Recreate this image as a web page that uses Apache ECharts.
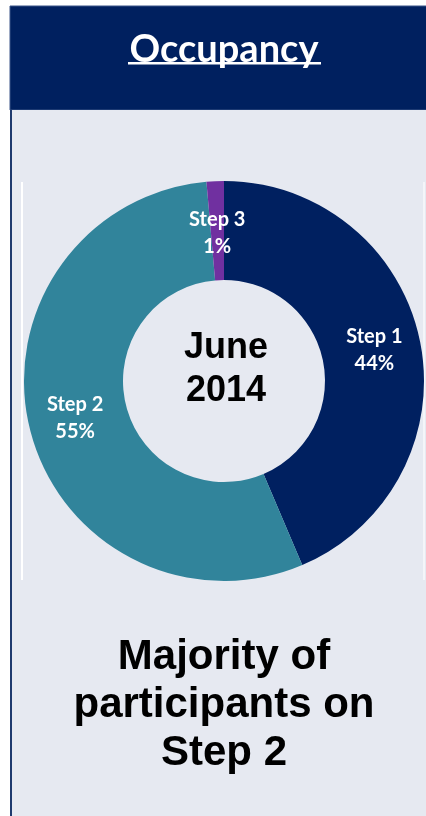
<!DOCTYPE html>
<html lang="en" style="height: 100%">
<head>
    <meta charset="UTF-8">
    <title>Occupancy</title>
    <script src="https://cdn.jsdelivr.net/npm/echarts@6/dist/echarts.min.js"></script>
</head>
<body style="height: 100%; margin: 0; background: #fff">
    <div id="main" style="width: 426px; height: 816px"></div>
    <script>
        var steps = ['Step 1', 'Step 2', 'Step 3'];
        var shares = [43.6, 55.0, 1.4];
        var stepColors = ['#002060', '#31849B', '#7030A0'];
        var title = 'Occupancy';
        var centerText = 'June\n2014';
        var footText = 'Majority of\nparticipants on\nStep 2';

        var myChart = echarts.init(document.getElementById('main'));

        var option = {
            animation: false,
            graphic: [
                // header band
                { type: 'rect', shape: { x: 10, y: 6, width: 420, height: 104 },
                  style: { fill: '#00205F', stroke: '#3A5488', lineWidth: 1 }, z: 0 },
                // light panel
                { type: 'rect', shape: { x: 10, y: 110, width: 420, height: 710 },
                  style: { fill: '#E6E9F1' }, z: 0 },
                { type: 'line', shape: { x1: 11, y1: 110, x2: 11, y2: 816 },
                  style: { stroke: '#1F3A6E', lineWidth: 2 }, z: 1 },
                // chart area edges
                { type: 'line', shape: { x1: 22, y1: 182, x2: 22, y2: 580 },
                  style: { stroke: '#ffffff', lineWidth: 2 }, z: 1 },
                { type: 'line', shape: { x1: 424, y1: 182, x2: 424, y2: 580 },
                  style: { stroke: '#F4F5F9', lineWidth: 2 }, z: 1 },
                { type: 'text', x: 224, y: 50, z: 2,
                  style: { text: title, fill: '#fff', font: 'bold 38px Lato',
                           align: 'center', verticalAlign: 'middle' } },
                { type: 'rect', shape: { x: 128, y: 62, width: 193, height: 2.5 },
                  style: { fill: '#fff' }, z: 2 },
                { type: 'text', x: 226, y: 370, z: 3,
                  style: { text: centerText, fill: '#000', font: 'bold 36px "Liberation Sans"',
                           lineHeight: 43, align: 'center', verticalAlign: 'middle' } },
                { type: 'text', x: 224, y: 705, z: 3,
                  style: { text: footText, fill: '#000', font: 'bold 42px "Liberation Sans"',
                           lineHeight: 48, align: 'center', verticalAlign: 'middle' } }
            ],
            series: [{
                type: 'pie',
                center: [224, 381],
                radius: [101, 200],
                startAngle: 90,
                clockwise: true,
                z: 2,
                label: {
                    position: 'inside',
                    color: '#fff',
                    fontFamily: 'Lato',
                    fontWeight: 'bold',
                    fontSize: 20,
                    lineHeight: 27,
                    formatter: function (p) { return p.name + '\n' + Math.round(p.value) + '%'; }
                },
                labelLine: { show: false },
                emphasis: { disabled: true },
                itemStyle: { borderWidth: 0 },
                data: steps.map(function (s, i) {
                    var item = { name: s, value: shares[i], itemStyle: { color: stepColors[i] } };
                    if (i === 2) item.label = { offset: [0, 5] };
                    return item;
                })
            }]
        };
        myChart.setOption(option);
    </script>
</body>
</html>
